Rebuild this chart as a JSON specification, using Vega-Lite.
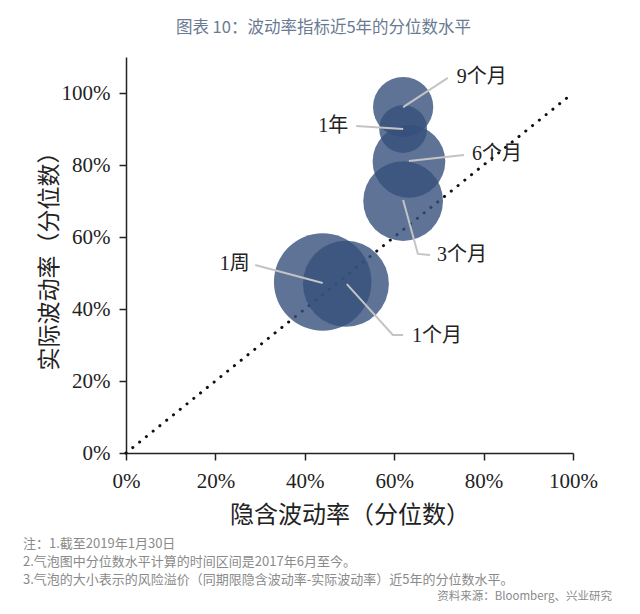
{
  "$schema": "https://vega.github.io/schema/vega-lite/v6.json",
  "width": 447,
  "height": 396,
  "autosize": "none",
  "padding": {"left": 126, "top": 57, "right": 67, "bottom": 161},
  "background": "white",
  "title": {
    "text": "图表 10：波动率指标近5年的分位数水平",
    "font": "Noto Sans CJK SC",
    "fontSize": 16.5,
    "fontWeight": "normal",
    "color": "#6a7a92",
    "anchor": "middle",
    "dx": -26,
    "offset": 21
  },
  "config": {
    "view": {"stroke": null},
    "axis": {"grid": false}
  },
  "datasets": {
    "bubbles": [
      {"term": "3个月", "implied": 0.62, "realized": 0.70, "premium": 63.6},
      {"term": "6个月", "implied": 0.633, "realized": 0.81, "premium": 52.8},
      {"term": "9个月", "implied": 0.62, "realized": 0.961, "premium": 36.3},
      {"term": "1年", "implied": 0.62, "realized": 0.90, "premium": 22.9},
      {"term": "1周", "implied": 0.44, "realized": 0.475, "premium": 95},
      {"term": "1个月", "implied": 0.492, "realized": 0.47, "premium": 73.9}
    ],
    "leaders": [
      {"term": "9个月", "k": 1, "implied": 0.62, "realized": 0.961},
      {"term": "9个月", "k": 2, "implied": 0.72, "realized": 1.042},
      {"term": "1年", "k": 1, "implied": 0.62, "realized": 0.90},
      {"term": "1年", "k": 2, "implied": 0.515, "realized": 0.908},
      {"term": "6个月", "k": 1, "implied": 0.633, "realized": 0.811},
      {"term": "6个月", "k": 2, "implied": 0.756, "realized": 0.828},
      {"term": "3个月", "k": 1, "implied": 0.62, "realized": 0.703},
      {"term": "3个月", "k": 2, "implied": 0.653, "realized": 0.553},
      {"term": "3个月", "k": 3, "implied": 0.68, "realized": 0.55},
      {"term": "1周", "k": 1, "implied": 0.44, "realized": 0.472},
      {"term": "1周", "k": 2, "implied": 0.289, "realized": 0.522},
      {"term": "1个月", "k": 1, "implied": 0.494, "realized": 0.469},
      {"term": "1个月", "k": 2, "implied": 0.597, "realized": 0.328},
      {"term": "1个月", "k": 3, "implied": 0.62, "realized": 0.328}
    ],
    "labels": [
      {"term": "9个月", "implied": 0.74, "realized": 1.045, "side": "left"},
      {"term": "1年", "implied": 0.497, "realized": 0.908, "side": "right"},
      {"term": "6个月", "implied": 0.774, "realized": 0.83, "side": "left"},
      {"term": "3个月", "implied": 0.696, "realized": 0.55, "side": "left"},
      {"term": "1周", "implied": 0.277, "realized": 0.525, "side": "right"},
      {"term": "1个月", "implied": 0.64, "realized": 0.325, "side": "left"}
    ],
    "diag": [
      {"implied": 0, "realized": 0, "implied_end": 1, "realized_end": 1}
    ],
    "notes": [
      {"note": "注：1.截至2019年1月30日", "implied": -0.2304, "realized": -0.2528, "side": "left"},
      {"note": "2.气泡图中分位数水平计算的时间区间是2017年6月至今。", "implied": -0.2304, "realized": -0.3028, "side": "left"},
      {"note": "3.气泡的大小表示的风险溢价（同期限隐含波动率-实际波动率）近5年的分位数水平。", "implied": -0.2304, "realized": -0.3528, "side": "left"},
      {"note": "资料来源：Bloomberg、兴业研究", "implied": 1.087, "realized": -0.40, "side": "right"}
    ]
  },
  "encoding": {
    "x": {"field": "implied", "type": "quantitative", "scale": {"domain": [0, 1], "nice": false, "zero": false},
      "axis": {
        "values": [0, 0.2, 0.4, 0.6, 0.8, 1],
        "format": ".0%",
        "title": "隐含波动率（分位数）",
        "titleFont": "Noto Sans CJK SC",
        "titleFontSize": 24,
        "titleFontWeight": "normal",
        "titleColor": "#222222",
        "titlePadding": 12,
        "labelFont": "Liberation Serif",
        "labelFontSize": 21,
        "labelColor": "#222222",
        "labelPadding": 10,
        "labelFlush": false,
        "domainColor": "#222222",
        "domainWidth": 1.5,
        "tickColor": "#222222",
        "tickWidth": 1.5,
        "tickSize": 7
      }
    },
    "y": {"field": "realized", "type": "quantitative", "scale": {"domain": [0, 1.1], "nice": false, "zero": false},
      "axis": {
        "values": [0, 0.2, 0.4, 0.6, 0.8, 1],
        "format": ".0%",
        "title": "实际波动率（分位数）",
        "titleFont": "Noto Sans CJK SC",
        "titleFontSize": 23,
        "titleFontWeight": "normal",
        "titleColor": "#222222",
        "titlePadding": 0,
        "labelFont": "Liberation Serif",
        "labelFontSize": 21,
        "labelColor": "#222222",
        "labelPadding": 9,
        "labelFlush": false,
        "domainColor": "#222222",
        "domainWidth": 1.5,
        "tickColor": "#222222",
        "tickWidth": 1.5,
        "tickSize": 7
      }
    }
  },
  "layer": [
    {
      "data": {"name": "diag"},
      "mark": {"type": "rule", "color": "#111111", "strokeWidth": 3, "strokeDash": [0.1, 8.6], "strokeCap": "round"},
      "encoding": {
        "x2": {"field": "implied_end"},
        "y2": {"field": "realized_end"}
      }
    },
    {
      "data": {"name": "bubbles"},
      "mark": {"type": "circle", "color": "#36507c", "opacity": 0.8, "stroke": null},
      "encoding": {
        "size": {"field": "premium", "type": "quantitative", "scale": {"type": "linear", "domain": [0, 100], "range": [0, 10000]}, "legend": null}
      }
    },
    {
      "data": {"name": "leaders"},
      "mark": {"type": "line", "color": "#c4c4c4", "strokeWidth": 2},
      "encoding": {
        "detail": {"field": "term", "type": "nominal"},
        "order": {"field": "k", "type": "quantitative"}
      }
    },
    {
      "data": {"name": "labels"},
      "transform": [{"filter": "datum.side === 'left'"}],
      "mark": {"type": "text", "align": "left", "baseline": "middle", "font": "Liberation Serif, Noto Sans CJK SC", "fontSize": 20, "color": "#222222"},
      "encoding": {
        "text": {"field": "term"}
      }
    },
    {
      "data": {"name": "labels"},
      "transform": [{"filter": "datum.side === 'right'"}],
      "mark": {"type": "text", "align": "right", "baseline": "middle", "font": "Liberation Serif, Noto Sans CJK SC", "fontSize": 20, "color": "#222222"},
      "encoding": {
        "text": {"field": "term"}
      }
    },
    {
      "data": {"name": "notes"},
      "transform": [{"filter": "datum.side === 'left'"}],
      "mark": {"type": "text", "align": "left", "baseline": "middle", "font": "Noto Sans CJK SC", "fontSize": 13, "color": "#8a8a8a"},
      "encoding": {
        "text": {"field": "note"}
      }
    },
    {
      "data": {"name": "notes"},
      "transform": [{"filter": "datum.side === 'right'"}],
      "mark": {"type": "text", "align": "right", "baseline": "middle", "font": "Noto Sans CJK SC", "fontSize": 11.5, "color": "#8a8a8a"},
      "encoding": {
        "text": {"field": "note"}
      }
    }
  ]
}
